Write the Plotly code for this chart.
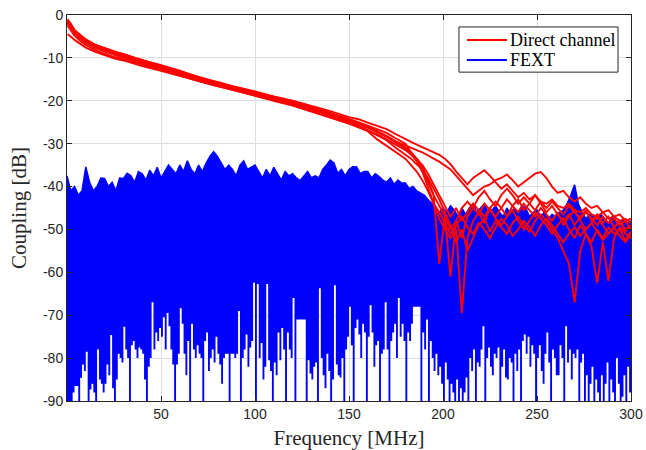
import numpy as np
import plotly.graph_objects as go

# ---------------- Direct channel (red) ----------------
freq_direct = [0.3, 2, 4, 7, 10, 15, 20, 25, 30, 40, 50, 60, 70, 80, 90, 100, 110,
               120, 130, 140, 150, 155, 160, 165, 170, 175, 180] + list(range(183, 301, 3))

direct_1 = [-1.2, -2.2, -3.6, -4.8, -5.8, -7.0, -7.9, -8.6, -9.1, -10.6, -11.7, -13.0, -14.6, -15.6,
            -16.8, -17.8, -19.0, -20.0, -21.2, -22.4, -23.8, -24.3, -25.1, -25.8, -26.6, -27.8, -29.0,
            -29.6, -30.2, -30.8, -31.5, -32.0, -32.6, -33.5, -34.8, -36.5, -38.0, -39.5, -38.0, -37.0,
            -36.2, -37.5, -39.0, -40.5, -39.5, -41.0, -42.5, -41.5, -43.0, -42.0, -43.5, -44.0, -43.0,
            -44.5, -45.0, -44.0, -45.5, -46.0, -45.0, -46.5, -47.0, -46.0, -47.5, -47.0, -48.0, -47.5, -48.5]
direct_2 = [-1.8, -2.8, -4.1, -5.2, -6.2, -7.4, -8.2, -9.0, -9.7, -11.0, -12.3, -13.6, -15.0, -16.2,
            -17.3, -18.5, -19.6, -20.6, -22.0, -23.4, -24.8, -25.6, -26.3, -27.2, -28.3, -29.5, -30.4,
            -31.0, -31.5, -32.0, -32.8, -33.5, -34.2, -35.0, -36.0, -37.5, -39.0, -40.5, -42.0, -41.0,
            -40.0, -39.5, -38.5, -38.0, -37.2, -38.5, -40.0, -39.0, -38.0, -37.0, -36.6, -38.0, -40.0,
            -41.5, -41.0, -42.5, -43.5, -42.5, -44.0, -45.0, -44.5, -46.0, -45.5, -47.0, -46.5, -48.0, -47.5]
direct_3 = [-1.0, -2.0, -3.5, -4.7, -5.7, -6.9, -7.7, -8.5, -9.2, -10.5, -11.8, -13.1, -14.5, -15.7,
            -16.9, -18.0, -19.1, -20.2, -21.4, -22.8, -24.2, -25.0, -25.8, -26.6, -27.5, -28.8, -30.0,
            -32.0, -34.0, -36.5, -39.0, -42.0, -44.5, -47.0, -50.0, -48.0, -52.0, -47.0, -45.0, -46.5,
            -44.0, -45.5, -47.0, -45.0, -43.0, -44.5, -46.0, -44.0, -45.5, -47.0, -45.0, -46.5, -48.0,
            -46.0, -49.0, -47.0, -45.5, -48.0, -50.0, -48.5, -47.0, -49.0, -51.0, -49.5, -48.0, -50.5, -49.0]
direct_4 = [-2.5, -3.6, -4.8, -6.0, -7.0, -8.2, -9.0, -9.8, -10.3, -11.6, -12.8, -14.0, -15.4, -16.6,
            -17.6, -18.8, -19.9, -21.0, -22.4, -23.8, -25.2, -26.0, -26.9, -28.0, -29.2, -31.0, -32.5,
            -33.5, -34.8, -36.0, -38.0, -40.5, -43.0, -46.0, -49.0, -53.0, -50.0, -55.0, -52.0, -49.0,
            -47.5, -50.5, -48.0, -49.5, -51.0, -48.5, -47.0, -49.0, -50.5, -48.0, -46.5, -48.0, -50.0,
            -52.0, -55.0, -58.0, -67.0, -55.0, -51.0, -53.0, -50.0, -52.0, -49.5, -51.0, -50.0, -52.5, -50.5]
direct_5 = [-1.6, -2.6, -3.9, -5.1, -6.1, -7.3, -8.1, -8.9, -9.5, -10.9, -12.1, -13.4, -14.9, -16.0,
            -17.1, -18.3, -19.5, -20.5, -21.8, -23.2, -24.6, -25.4, -26.2, -27.3, -28.4, -29.8, -31.2,
            -32.5, -34.0, -36.5, -40.0, -44.0, -47.5, -50.0, -52.0, -50.0, -69.5, -52.0, -48.0, -46.0,
            -48.5, -45.0, -43.5, -45.0, -47.0, -44.5, -43.0, -45.5, -44.0, -42.0, -44.0, -46.0, -44.5,
            -46.5, -48.0, -46.5, -49.0, -47.0, -45.5, -48.0, -46.5, -48.5, -47.0, -49.5, -48.0, -50.0, -49.0]
direct_6 = [-1.4, -2.4, -3.7, -4.9, -5.9, -7.1, -8.0, -8.7, -9.3, -10.7, -11.9, -13.2, -14.7, -15.8,
            -16.9, -18.1, -19.2, -20.1, -21.5, -22.9, -24.4, -25.1, -26.1, -27.1, -28.2, -29.5, -30.9,
            -32.0, -33.5, -35.5, -38.5, -42.0, -58.0, -47.0, -61.0, -48.0, -45.0, -43.5, -45.0, -42.5,
            -41.0, -43.0, -44.5, -42.0, -40.5, -42.0, -44.0, -42.5, -44.0, -45.5, -43.5, -45.0, -43.5,
            -45.0, -46.5, -44.5, -46.0, -47.5, -46.0, -47.5, -49.0, -47.0, -48.5, -47.5, -49.0, -48.0, -50.0]
direct_7 = [-2.0, -3.0, -4.3, -5.5, -6.5, -7.7, -8.5, -9.3, -9.9, -11.3, -12.5, -13.8, -15.2, -16.4,
            -17.5, -18.7, -19.8, -20.8, -22.2, -23.6, -25.0, -25.9, -26.8, -27.8, -29.0, -30.2, -31.5,
            -32.5, -33.5, -35.0, -37.0, -39.5, -42.0, -44.5, -47.0, -45.0, -48.0, -46.0, -44.0, -45.5,
            -47.0, -45.0, -47.5, -49.0, -47.0, -45.5, -48.0, -50.0, -48.0, -46.0, -47.5, -49.0, -51.0,
            -49.0, -47.5, -50.0, -52.0, -49.0, -51.0, -54.0, -62.5, -53.0, -62.0, -52.0, -49.5, -51.0, -52.0]
direct_8 = [-4.5, -5.0, -5.8, -6.8, -7.6, -8.6, -9.4, -10.1, -10.6, -11.9, -13.0, -14.2, -15.5, -16.6,
            -17.7, -18.9, -20.0, -21.1, -22.5, -23.9, -25.3, -26.2, -27.1, -29.0, -30.5, -32.0, -33.5,
            -35.0, -36.5, -38.5, -41.0, -44.0, -46.0, -48.5, -51.0, -49.0, -47.0, -49.5, -51.0, -48.5,
            -50.0, -52.0, -49.5, -47.5, -49.0, -51.5, -50.0, -48.0, -49.5, -51.5, -49.0, -47.5, -49.0,
            -51.0, -53.0, -51.0, -49.5, -51.5, -50.0, -48.5, -50.5, -52.5, -51.0, -49.5, -51.5, -53.0, -51.0]

direct_curves = [direct_1, direct_2, direct_3, direct_4, direct_5, direct_6, direct_7, direct_8]

# ---------------- FEXT (blue) envelope ----------------
fext_freq_upper = np.arange(0, 301, 2)      # 0..300 MHz, 2 MHz step
fext_upper = [
    -37.5, -41, -40, -42, -41, -35.4, -39, -41, -40, -38,
    -38.1, -40, -39, -41, -38, -38.1, -36.9, -37.5, -39, -36.5,
    -37, -38.5, -36.2, -37.5, -35.5, -38, -36.5, -35, -36, -37,
    -35, -36.5, -34, -36, -37, -35, -36.5, -34.5, -33, -31.9,
    -33, -34.5, -36, -35, -36, -37.5, -35, -34, -36, -35.5,
    -35, -36.5, -38, -36, -37.5, -35.5, -37, -38.5, -36.5, -37.5,
    -37, -38, -38.6, -37.5, -36.5, -38, -37.5, -38, -36, -35,
    -33.8, -34.5, -36.9, -36, -37.5, -36, -35.4, -35.4, -37, -36.5,
    -36.5, -38, -37, -37.7, -38.5, -39, -38, -39.5, -38.5, -39.2,
    -39.2, -40.5, -40, -41, -41.6, -42, -43, -43.9, -44.5, -46,
    -45, -46, -44.5, -45.5, -47, -45, -46.5, -45, -44, -46,
    -45, -44, -46, -45.5, -44.5, -46, -47, -45, -46.5, -45,
    -46, -44.5, -45, -47, -46, -45.5, -47, -46, -47.5, -46.5,
    -47, -46, -45.5, -44, -42, -39.6, -44, -46, -47.5, -46.5,
    -47, -48, -46.5, -47.5, -48.5, -47, -48, -49, -47.5, -48.5,
    -48]

fext_freq_lower = np.arange(0, 301, 1)      # 0..300 MHz, 1 MHz step
fext_lower = [
    -92, -92, -92, -88, -86.5, -86.5, -92, -84.6, -81.5, -83,
    -78.5, -92, -87.3, -86, -88, -92, -78, -85, -86, -88,
    -86, -81.5, -84, -74.6, -87, -92, -85, -79, -80, -81,
    -72.7, -78, -80, -92, -77, -76, -78, -80, -77.5, -78,
    -79, -85, -92, -82, -80, -67, -78, -74, -76, -73,
    -75, -70.5, -78, -69.5, -72.6, -78, -81.5, -92, -81.5, -79,
    -68.4, -72, -79, -84, -76, -92, -72, -78, -80, -77,
    -79, -80, -92, -76, -74, -83, -80, -78, -81, -75,
    -79, -81.5, -86, -80, -79, -79, -92, -79, -79, -80,
    -79, -69, -92, -80, -78, -74.5, -82, -77.5, -76, -62.4,
    -92, -62.7, -80, -76.5, -85, -82, -62.7, -80.5, -83, -92,
    -81, -84, -74, -80.5, -73, -78, -92, -74, -78, -80,
    -66, -92, -71, -71, -71, -71, -71, -92, -80.5, -83.6,
    -85, -82, -81, -92, -63.7, -80, -84, -87, -79, -83,
    -92, -85, -63, -81.5, -84, -84.5, -80, -92, -78, -75,
    -68, -77, -92, -73, -71, -74.5, -80, -72, -74, -92,
    -75, -67.7, -74, -82, -77, -76, -92, -79, -78, -67,
    -78, -92, -76, -74, -72, -80, -66, -75, -72, -76,
    -92, -74, -76, -72, -68, -68, -68, -68, -92, -74,
    -78, -71, -92, -76, -80, -83, -79, -84, -82, -86,
    -92, -81, -85, -92, -86, -88, -92, -85, -92, -87,
    -92, -88, -84.5, -92, -80, -83, -78, -92, -81, -82,
    -78, -72.6, -92, -80, -77.5, -82, -84, -79, -80, -77.5,
    -92, -82, -78, -84.5, -85, -80, -81, -92, -79, -83,
    -78, -92, -76, -74.5, -79, -75, -82, -77, -79, -92,
    -80, -77, -83, -86, -79, -74, -81, -92, -78, -80,
    -84, -84, -77, -80, -92, -72.6, -81, -78, -85, -79,
    -80, -78, -92, -81, -79, -92, -84, -92, -86, -82,
    -92, -85, -88, -92, -84, -92, -86, -81, -92, -85,
    -88, -92, -80, -86, -92, -89, -84, -92, -82, -88,
    -92]

x_tick_vals = [50, 100, 150, 200, 250, 300]
x_tick_text = ["50", "100", "150", "200", "250", "300"]
y_tick_vals = [0, -10, -20, -30, -40, -50, -60, -70, -80, -90]
y_tick_text = ["0", "-10", "-20", "-30", "-40", "-50", "-60", "-70", "-80", "-90"]
legend_names = ["Direct channel", "FEXT"]

RED = "#ff0000"
BLUE = "#0000ff"
AX = "#262626"

fig = go.Figure()

# FEXT band: lower edge, then upper edge filled down to it
fig.add_trace(go.Scatter(x=fext_freq_lower, y=fext_lower, mode="lines",
                         line=dict(color=BLUE, width=0, shape="hv"),
                         showlegend=False, hoverinfo="skip"))
fig.add_trace(go.Scatter(x=fext_freq_upper, y=fext_upper, mode="lines",
                         line=dict(color=BLUE, width=1.5),
                         fill="tonexty", fillcolor=BLUE,
                         showlegend=False, hoverinfo="skip"))

for ys in direct_curves:
    fig.add_trace(go.Scatter(x=freq_direct, y=ys, mode="lines",
                             line=dict(color=RED, width=1.9),
                             showlegend=False))

tick_font = dict(family="Liberation Sans, Arial, sans-serif", size=14, color=AX)
serif = "Liberation Serif, Times New Roman, serif"

# Legend box (MATLAB style) in plot-area (paper) coordinates
lg_x0, lg_x1, lg_y0, lg_y1 = 0.695, 0.977, 0.852, 0.969
lg_line_x0, lg_line_x1, lg_text_x = 0.709, 0.780, 0.782
lg_rows = [0.9352, 0.8834]
lg_colors = [RED, BLUE]

shapes = [dict(type="rect", xref="paper", yref="paper", x0=lg_x0, x1=lg_x1, y0=lg_y0, y1=lg_y1,
               fillcolor="white", line=dict(color=AX, width=1), layer="above")]
annotations = []
for name, col, yy in zip(legend_names, lg_colors, lg_rows):
    shapes.append(dict(type="line", xref="paper", yref="paper", x0=lg_line_x0, x1=lg_line_x1,
                       y0=yy, y1=yy, line=dict(color=col, width=2), layer="above"))
    annotations.append(dict(text=name, xref="paper", yref="paper", x=lg_text_x, y=yy,
                            xanchor="left", yanchor="middle", showarrow=False,
                            font=dict(family=serif, size=18, color="#000000")))

annotations.append(dict(text="Coupling [dB]", xref="paper", yref="paper", x=0, y=0.5,
                        xanchor="center", yanchor="middle", xshift=-48, textangle=-90,
                        showarrow=False, font=dict(family=serif, size=21, color=AX)))

fig.update_layout(
    template="none",
    width=646, height=450,
    margin=dict(l=67, r=15, t=15, b=49),
    paper_bgcolor="white", plot_bgcolor="white",
    showlegend=False,
    shapes=shapes,
    annotations=annotations,
    xaxis=dict(range=[0, 300], tickvals=x_tick_vals, ticktext=x_tick_text,
               ticks="inside", ticklen=5, tickcolor=AX, tickwidth=1,
               showline=True, linecolor=AX, linewidth=1, mirror="ticks",
               showgrid=True, gridcolor="#dedede", gridwidth=1, zeroline=False,
               automargin=False, ticklabeloverflow="allow", tickfont=tick_font,
               title=dict(text="Frequency [MHz]", font=dict(family=serif, size=21, color=AX))),
    yaxis=dict(range=[-90, 0], tickvals=y_tick_vals, ticktext=y_tick_text,
               ticks="inside", ticklen=5, tickcolor=AX, tickwidth=1,
               showline=True, linecolor=AX, linewidth=1, mirror="ticks",
               showgrid=True, gridcolor="#dedede", gridwidth=1, zeroline=False,
               automargin=False, ticklabeloverflow="allow", tickfont=tick_font),
)

fig.write_html("out.html",
               config={"displayModeBar": False},
               post_script="document.body.style.margin='0px';document.body.style.overflow='hidden';")
